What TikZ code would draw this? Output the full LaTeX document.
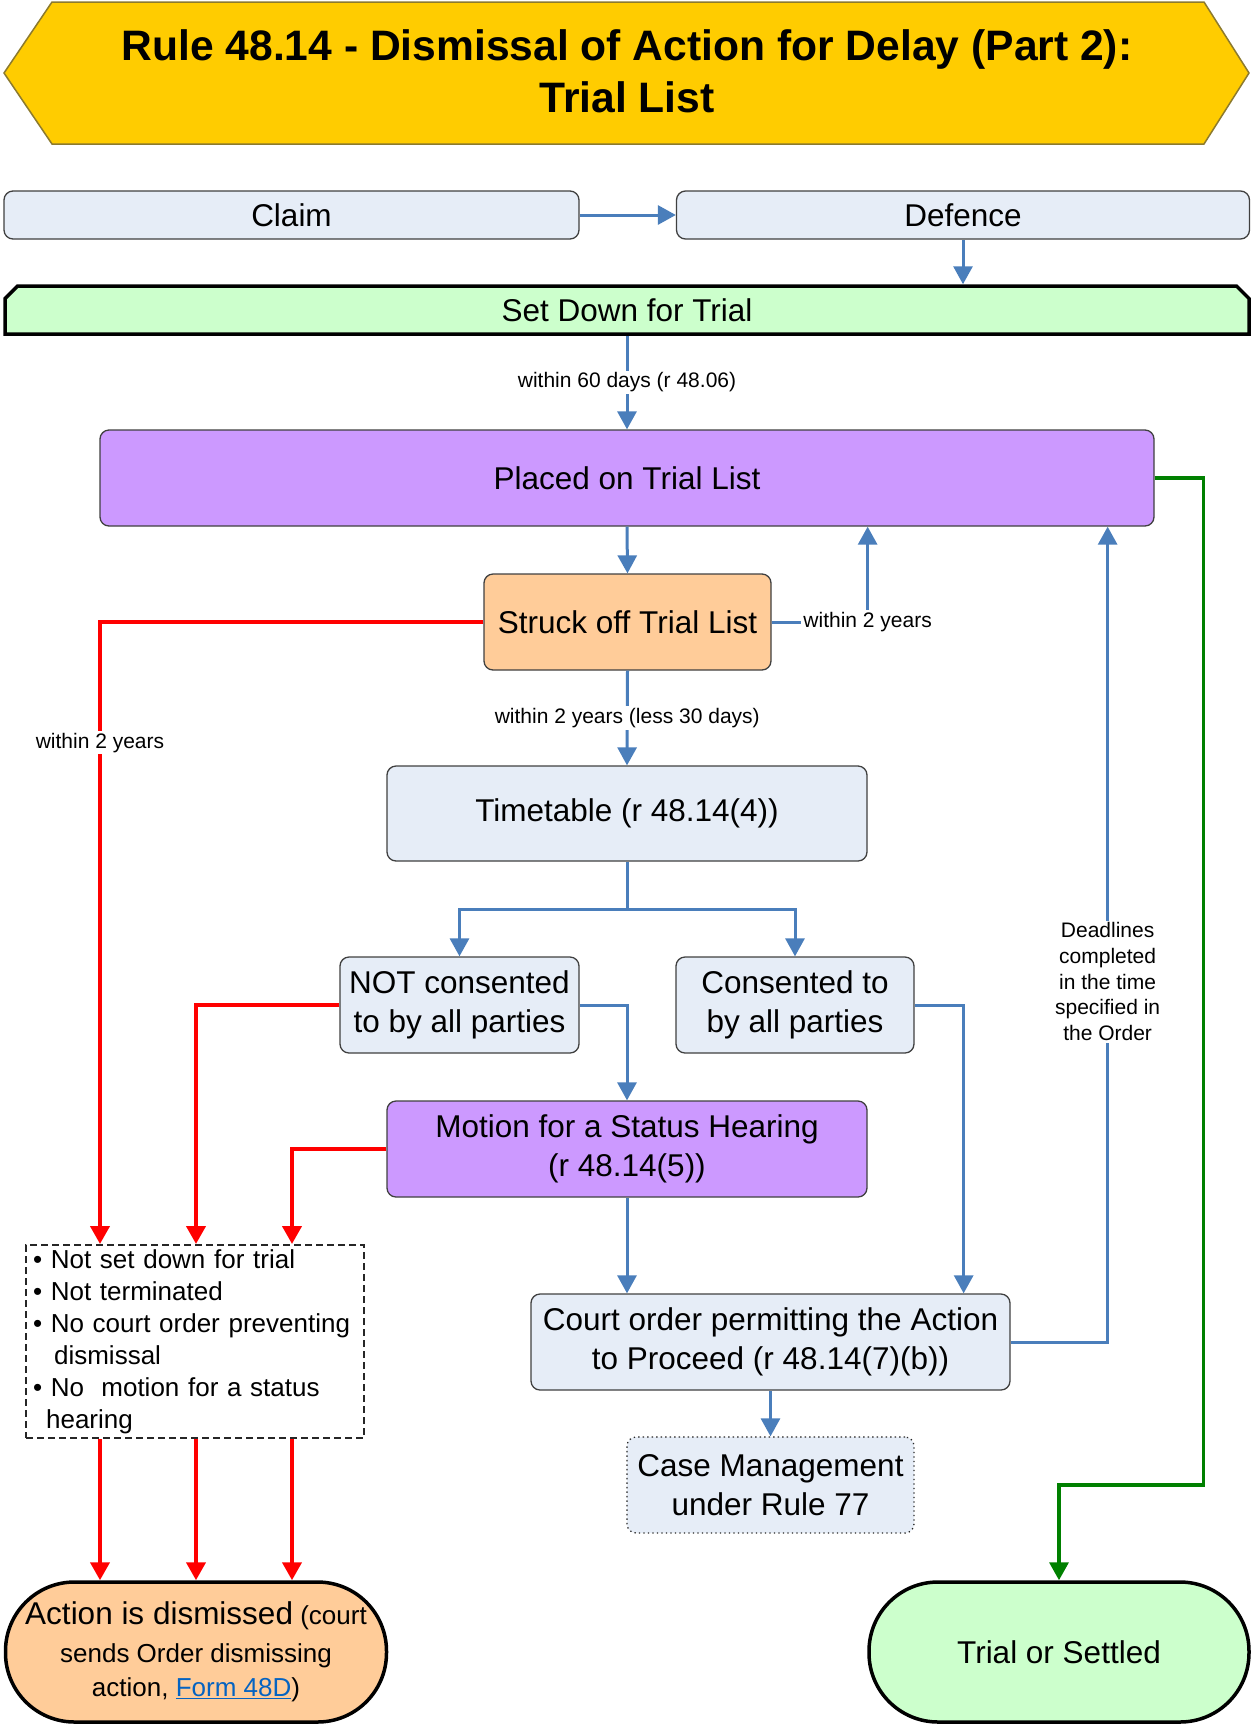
\documentclass[tikz,border=0pt]{standalone}
\usepackage{fontspec}
\setmainfont{Liberation Sans}
\usetikzlibrary{arrows.meta,calc,shapes.misc}
\definecolor{boxblue}{HTML}{E6EDF7}
\definecolor{purplefill}{HTML}{CC99FF}
\definecolor{orangefill}{HTML}{FFCC99}
\definecolor{greenfill}{HTML}{CCFFCC}
\definecolor{goldfill}{HTML}{FFCC00}
\definecolor{golddark}{HTML}{8C7A2E}
\definecolor{lineblue}{HTML}{4A7EBB}
\definecolor{linered}{HTML}{FF0000}
\definecolor{linegreen}{HTML}{008000}
\definecolor{linkblue}{HTML}{0563C1}
\definecolor{bordergray}{HTML}{404040}
\begin{document}
\begin{tikzpicture}[x=1pt,y=-1pt,
  base/.style={font=\fontsize{31.5}{38.5}\selectfont, align=center, inner sep=0pt, text=black},
  bx/.style={base, rectangle, rounded corners=9pt, draw=bordergray, line width=1.3pt, fill=boxblue},
  stad/.style={base, rectangle, rounded corners=69pt, draw=black, line width=3.5pt},
  lbl/.style={font=\fontsize{21}{25.7}\selectfont, fill=white, inner sep=2pt, align=center, text=black},
  tip/.style={-{Triangle[length=18pt,width=19pt]}},
  blu/.style={draw=lineblue, line width=3pt, tip},
  redarr/.style={draw=linered, line width=4pt, tip},
  grn/.style={draw=linegreen, line width=3.5pt, tip}]
\useasboundingbox (0,0) rectangle (1252,1725);

% title
\draw[fill=goldfill, draw=golddark, line width=1.5pt] (4,73) -- (52,2) -- (1204,2) -- (1249,73) -- (1204,144) -- (52,144) -- cycle;
\node[font=\fontsize{42.6}{52}\selectfont\bfseries, align=center, inner sep=0pt] (title) at (627,71) {Rule 48.14 - Dismissal of Action for Delay (Part 2):\\Trial List};

% nodes
\node[bx, minimum width=575pt, minimum height=48pt] (claim) at (291.5,215) {Claim};
\node[bx, minimum width=573pt, minimum height=48pt] (defence) at (963,215) {Defence};
\node[base, chamfered rectangle, chamfered rectangle corners={north west,north east}, chamfered rectangle xsep=9pt,
      draw=black, line width=3.5pt, fill=greenfill, minimum width=1244pt, minimum height=48pt] (setdown) at (627,310) {Set Down for Trial};
\node[bx, fill=purplefill, minimum width=1054pt, minimum height=96pt] (placed) at (627,478) {Placed on Trial List};
\node[bx, fill=orangefill, minimum width=287pt, minimum height=96pt] (struck) at (627.5,622) {Struck off Trial List};
\node[bx, minimum width=480pt, minimum height=95pt] (tt) at (627,813.5) {Timetable (r 48.14(4))};
\node[bx, minimum width=239pt, minimum height=96pt] (notc) at (459.5,1005) {NOT consented\\to by all parties};
\node[bx, minimum width=238pt, minimum height=96pt] (cons) at (795,1005) {Consented to\\by all parties};
\node[bx, fill=purplefill, minimum width=480pt, minimum height=96pt] (motion) at (627,1149) {Motion for a Status Hearing\\(r 48.14(5))};
\node[bx, minimum width=479pt, minimum height=96pt] (court) at (770.5,1342) {Court order permitting the Action\\to Proceed (r 48.14(7)(b))};
\node[bx, draw=black!85, line width=1.3pt, dash pattern=on 1.3pt off 3.2pt, minimum width=287pt, minimum height=96pt] (case) at (770.5,1485) {Case Management\\under Rule 77};
\node[draw=black!85, line width=2.2pt, dash pattern=on 7pt off 4pt, minimum width=338pt, minimum height=193pt,
      text width=324pt, align=left, inner xsep=7pt, inner ysep=0pt, font=\fontsize{26}{32}\selectfont, anchor=north west] (cond) at (25,1244)
  {•\ Not set down for trial\\
   •\ Not terminated\\
   •\ No court order preventing\\
   \hspace*{21pt}dismissal\\
   •\ No\ \ motion for a status\\
   \hspace*{13pt}hearing};
\node[stad, fill=orangefill, minimum width=381pt, minimum height=140pt, font=\fontsize{26}{34}\selectfont] (dism) at (196,1652)
  {{\fontsize{31.5}{36}\selectfont Action is dismissed} (court\\[4pt]
   sends Order dismissing\\
   action, \textcolor{linkblue}{\underline{Form 48D}})};
\node[stad, fill=greenfill, minimum width=380pt, minimum height=140pt] (trial) at (1059,1652) {Trial or Settled};

% blue connectors
\draw[blu] (claim.east) -- (defence.west);
\draw[blu] (defence.south) -- (defence.south |- setdown.north);
\draw[blu] (setdown.south) -- node[lbl]{within 60 days (r 48.06)} (placed.north);
\draw[blu] (placed.south) -- (struck.north);
\draw[blu] (struck.east) -| node[lbl, pos=0.5]{within 2 years} (tt.east |- placed.south);
\draw[blu] (struck.south) -- node[lbl]{within 2 years (less 30 days)} (tt.north);
\draw[blu] (tt.south) -- ++(0,48) -| (notc.north);
\draw[blu] (tt.south) -- ++(0,48) -| (cons.north);
\draw[blu] (notc.east) -| (motion.north);
\draw[blu] (cons.east) -| ($(court.north east)+(-47,0)$);
\draw[blu] (motion.south) -- (motion.south |- court.north);
\draw[blu] (court.east) -| node[lbl, pos=0.721]{Deadlines\\completed\\in the time\\specified in\\the Order} ($(placed.south east)+(-47,0)$);
\draw[blu] (court.south) -- (case.north);

% red connectors
\draw[redarr] (struck.west) -| node[lbl, pos=0.597]{within 2 years} ($(cond.north west)+(75,0)$);
\draw[redarr] (notc.west) -| ($(cond.north west)+(171,0)$);
\draw[redarr] (motion.west) -| ($(cond.north west)+(267,0)$);
\foreach \dx in {75,171,267} {
  \coordinate (s\dx) at ($(cond.south west)+(\dx,0)$);
  \draw[redarr] (s\dx) -- (s\dx |- dism.north);
}

% green connector
\draw[grn] (placed.east) -- ++(49,0) -- ++(0,1007) -| (trial.north);
\end{tikzpicture}
\end{document}
